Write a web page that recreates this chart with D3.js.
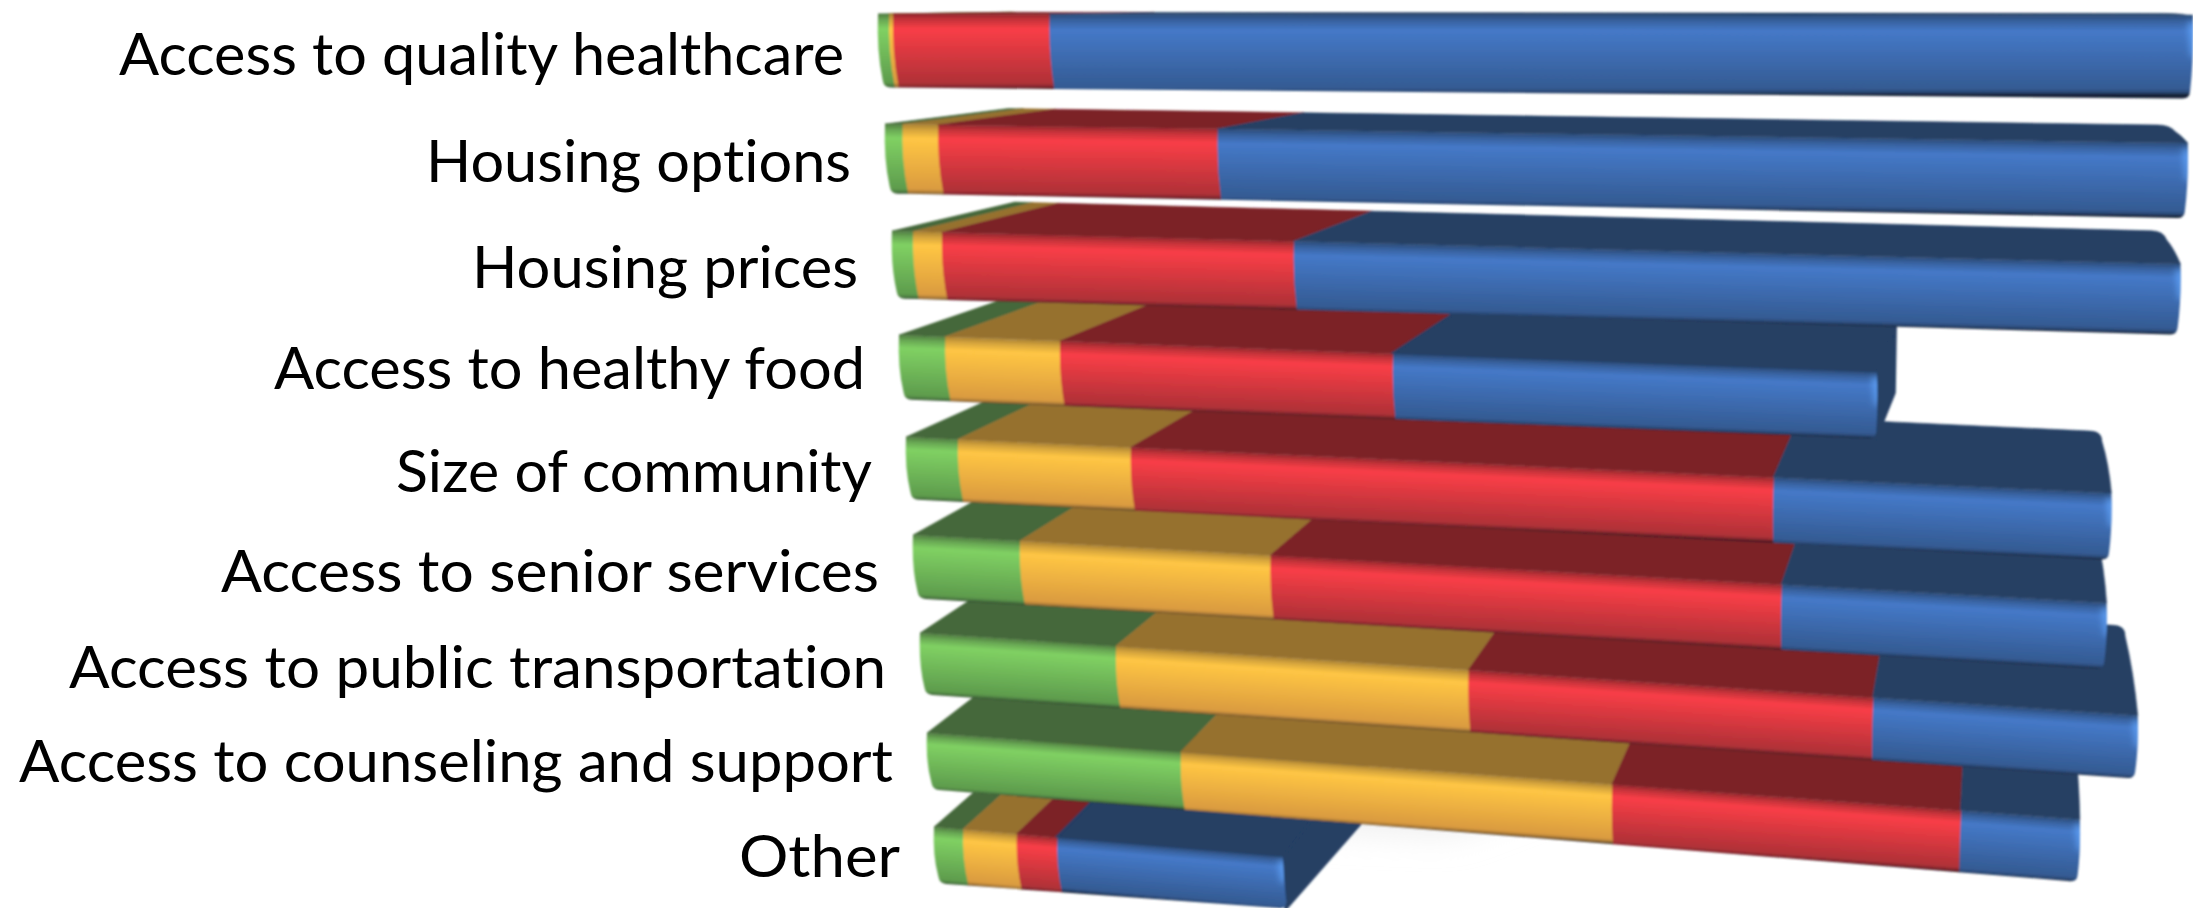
<!DOCTYPE html>
<html><head><meta charset="utf-8">
<script src="https://d3js.org/d3.v7.min.js"></script>
<style>html,body{margin:0;padding:0;background:#fff;overflow:hidden}svg{display:block}</style>
</head><body><svg id="c" width="2193" height="908"></svg>
<script>
// DATA
const categories = ["Access to quality healthcare","Housing options","Housing prices","Access to healthy food","Size of community","Access to senior services","Access to public transportation","Access to counseling and support","Other"];
const seriesNames = ["Green","Orange","Red","Blue"];
const greenValues  = [0.8,1.3,1.6,3.6,4.1,8.6,16.0,21.0,2.4];
const orangeValues = [0.3,2.75,2.25,9.05,13.8,20.25,28.85,35.75,4.5];
const redValues    = [11.9,21.5,27.4,26.25,51.3,41.3,33.1,28.9,3.4];
const blueValues   = [87.0,74.7,69.1,38.2,27.0,26.3,21.7,9.9,19.0];
const valuesBySeries = [greenValues,orangeValues,redValues,blueValues];
const bright = ["#80d163","#ffc644","#f93e47","#4579c8"];
const mid    = ["#5e9c4d","#da9b40","#b03137","#345b93"];
const dark   = ["#44683a","#96712f","#7b2327","#253f64"];
const labelWidths = [725,425,386,591,476,658,817,874,161];

// PROJECTION (perspective layout of the 3-D chart)
const rows = d3.range(categories.length);
const xLeft  = d3.scaleLinear().domain([0,8]).range([878,934]);
const xWidth = d3.scaleLinear().domain([0,8]).range([1315,1191]);
const topY   = d3.scaleLinear().domain(rows).range([14,124,231,335,437,535,633,733,827]);
const botY   = d3.scaleLinear().domain(rows).range([87.5,193.5,298.5,399.5,499.5,598.5,694.5,789.5,883.5]);
const topSl  = d3.scaleLinear().domain(rows).range([.001,.0146,.0257,.038,.0466,.057,.0677,.075,.085]);
const botSl  = d3.scaleLinear().domain(rows).range([.0084,.019,.028,.04,.05,.059,.069,.08,.072]);
const baseY  = d3.scaleLinear().domain(rows).range([75,182,288,389,492,592,688,782,877]);
const vpX = 2008, fx = .11, fy = .125, fyBottom = .105, sideExtra = 4;

const xAt = (i,v) => xLeft(i) + v/100*xWidth(i);
const topPt = (i,v) => { const x = xAt(i,v); return {x, y: topY(i)+topSl(i)*(x-xLeft(i))}; };
const botPt = (i,v) => { const x = xAt(i,v); return {x: x+(1700-x)*.007, y: botY(i)+botSl(i)*(x-xLeft(i))}; };
const back  = p => ({x: p.x+(vpX-p.x)*fx, y: p.y*(1-fy)});
const backB = p => ({x: p.x+(vpX-p.x)*fx, y: p.y*(1-fyBottom)});
const poly = ps => "M"+ps.map(p=>p.x.toFixed(1)+","+p.y.toFixed(1)).join("L")+"Z";

const svg = d3.select("#c");
const defs = svg.append("defs");
const f = defs.append("filter").attr("id","soft").attr("filterUnits","userSpaceOnUse")
  .attr("x",0).attr("y",-10).attr("width",2300).attr("height",960);
f.append("feGaussianBlur").attr("stdDeviation",0.85);
const ft = defs.append("filter").attr("id","softText").attr("filterUnits","userSpaceOnUse")
  .attr("x",0).attr("y",0).attr("width",2193).attr("height",908);
ft.append("feGaussianBlur").attr("stdDeviation",0.45);
const fs = defs.append("filter").attr("id","shadow").attr("filterUnits","userSpaceOnUse")
  .attr("x",1100).attr("y",700).attr("width",800).attr("height",208);
fs.append("feGaussianBlur").attr("stdDeviation",18);
const fh = defs.append("filter").attr("id","glow").attr("filterUnits","userSpaceOnUse")
  .attr("x",0).attr("y",-10).attr("width",2300).attr("height",960);
fh.append("feGaussianBlur").attr("stdDeviation",3);

// faint floor shadow behind the last bar
const lastEnd = d3.sum(valuesBySeries,s=>s[8]);
const sa = back(topPt(8,lastEnd));
svg.append("path").attr("filter","url(#shadow)").attr("fill","#e9e9e9")
  .attr("d",poly([{x:sa.x+10,y:sa.y+20},{x:sa.x+210,y:sa.y+35},{x:sa.x+90,y:sa.y+80},{x:sa.x-50,y:sa.y+75}]));

const g = svg.append("g").attr("filter","url(#soft)");

[...rows].reverse().forEach(i=>{
  const row = g.append("g").attr("class","bar");
  let cum = 0;
  const segs = valuesBySeries.map((s,k)=>{ const a=cum; cum+=s[i]; return {k,a,b:cum}; });
  const total = cum;
  const tE = topPt(i,total), bE = botPt(i,total), bT = back(tE);
  const sideVisible = tE.x < vpX;
  // end side face
  if(sideVisible){
    const bb=backB(bE);
    row.append("path").attr("d",poly([tE,{x:bT.x+sideExtra,y:bT.y},{x:bb.x+sideExtra,y:bb.y},bE]))
      .attr("fill",dark[3]).attr("stroke",dark[3]).attr("stroke-width",3).attr("stroke-linejoin","round");
  }
  // top faces
  row.selectAll(null).data(segs).join("path")
    .attr("d",d=>{
      const a=topPt(i,d.a), b=topPt(i,d.b), ba=back(a), bb=back(b);
      if(d.k===3 && !sideVisible){
        // rounded far corner when the end of the bar leans back past the vanishing point
        const r=10;
        const ux=tE.x-bT.x, uy=tE.y-bT.y, ul=Math.hypot(ux,uy)||1;
        const p=d3.path();
        p.moveTo(a.x,a.y); p.lineTo(tE.x,tE.y);
        p.quadraticCurveTo((tE.x+bT.x)/2+3,(tE.y+bT.y)/2+1, bT.x+ux/ul*r, bT.y+uy/ul*r);
        p.quadraticCurveTo(bT.x+2,bT.y, bT.x-r, bT.y-r*topSl(i));
        p.lineTo(ba.x,ba.y); p.closePath();
        return p.toString();
      }
      if(d.k===3) bb.x+=sideExtra;
      return poly([a,b,bb,ba]);
    })
    .attr("fill",d=>dark[d.k]).attr("stroke",d=>dark[d.k]).attr("stroke-width",d=>d.k===3&&sideVisible?3:.6)
    .attr("stroke-linejoin","round");
  // front faces, painted right to left so the shared edges have no seam
  [...segs].reverse().forEach(d=>{
    const first = d.k===0, last = d.k===3;
    const TL=topPt(i,d.a), TR=topPt(i,d.b), BL=botPt(i,d.a), BR=botPt(i,d.b);
    const m=topSl(i), nl=Math.hypot(m,1), nx=-m/nl, ny=1/nl;
    const mx=(TL.x+TR.x)/2, my=(TL.y+TR.y)/2, bx=(BL.x+BR.x)/2, by=(BL.y+BR.y)/2;
    const h=(bx-mx)*nx+(by-my)*ny;
    const id=`g${i}_${d.k}`;
    const lg=defs.append("linearGradient").attr("id",id).attr("gradientUnits","userSpaceOnUse")
      .attr("x1",mx).attr("y1",my).attr("x2",mx+nx*h).attr("y2",my+ny*h);
    const c0=d3.interpolateRgb(dark[d.k],bright[d.k]);
    const cEnd=d3.interpolateRgb(mid[d.k],"#10101a");
    [[0,c0(.2)],[.08,c0(.6)],[.2,bright[d.k]],[.93,mid[d.k]],[.985,cEnd(.3)],[1,cEnd(.75)]]
      .forEach(s=>lg.append("stop").attr("offset",s[0]).attr("stop-color",s[1]));
    const ext = last?0:.7, r=7;
    const p=d3.path();
    p.moveTo(TL.x,TL.y); p.lineTo(TR.x+ext,TR.y+m*ext);
    const midY=(TR.y+BR.y)/2;
    if(last){
      p.quadraticCurveTo(TR.x+1,midY,BR.x+.5,BR.y-r);
      p.quadraticCurveTo(BR.x,BR.y,BR.x-r,BR.y-r*botSl(i));
    } else p.quadraticCurveTo(TR.x+ext-1.5,midY,BR.x+ext,BR.y);
    const midL=(TL.y+BL.y)/2;
    if(first){
      p.lineTo(BL.x+r,BL.y+r*botSl(i));
      p.quadraticCurveTo(BL.x,BL.y,BL.x-1,BL.y-r);
      p.quadraticCurveTo(TL.x-1.5,midL,TL.x,TL.y);
    } else {
      p.lineTo(BL.x,BL.y);
      p.quadraticCurveTo(TL.x-1.5,midL,TL.x,TL.y);
    }
    p.closePath();
    row.append("path").attr("d",p.toString()).attr("fill",`url(#${id})`);
    if(last){
      // soft highlight on the bevel at the end of the bar
      const hh=BR.y-TR.y;
      const cid=`cl${i}`;
      defs.append("clipPath").attr("id",cid).append("path").attr("d",p.toString());
      row.append("g").attr("clip-path",`url(#${cid})`).append("path")
        .attr("filter","url(#glow)").attr("fill","#62a6fb").attr("fill-opacity",.85)
        .attr("d",poly([{x:TR.x-5,y:TR.y+hh*.08},{x:TR.x+3,y:TR.y+hh*.08},{x:TR.x+3,y:TR.y+hh*.5},{x:TR.x-2,y:TR.y+hh*.5}]));
    }
  });
});

// category labels
const labels = svg.append("g").attr("filter","url(#softText)");
labels.selectAll("text").data(categories).join("text")
  .text(d=>d)
  .attr("text-anchor","end")
  .attr("x",(d,i)=>xLeft(i)-34)
  .attr("y",(d,i)=>baseY(i))
  .attr("textLength",(d,i)=>labelWidths[i])
  .attr("lengthAdjust","spacingAndGlyphs")
  .attr("font-family","Lato, 'Open Sans', sans-serif")
  .attr("font-size",59)
  .style("font-variant-ligatures","none")
  .attr("fill","#000");
</script></body></html>
